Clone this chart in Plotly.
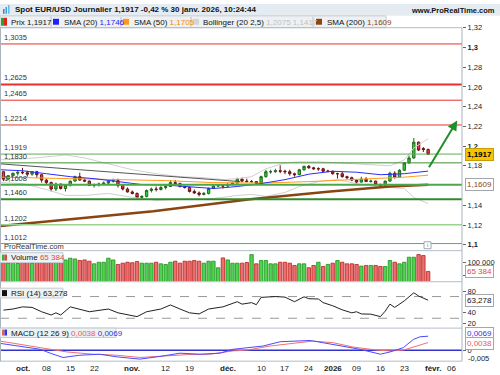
import plotly.graph_objects as go

W, H = 500, 375
FONT = "Liberation Sans"

# ---------------- data ----------------
idx = list(range(-4, 86))  # trading-day index (0 = 1 oct. 2025)
opens = [1.1740, 1.1665, 1.1700, 1.1725, 1.1733, 1.1730, 1.1715, 1.1740, 1.1710, 1.1655,
         1.1630, 1.1565, 1.1615, 1.1570, 1.1605, 1.1645, 1.1690, 1.1655, 1.1645, 1.1600,
         1.1610, 1.1615, 1.1625, 1.1645, 1.1650, 1.1600, 1.1565, 1.1535, 1.1520, 1.1480,
         1.1490, 1.1550, 1.1565, 1.1560, 1.1580, 1.1590, 1.1630, 1.1620, 1.1590, 1.1580,
         1.1540, 1.1525, 1.1510, 1.1520, 1.1570, 1.1595, 1.1600, 1.1595, 1.1610, 1.1625,
         1.1665, 1.1645, 1.1640, 1.1640, 1.1625, 1.1690, 1.1740, 1.1740, 1.1750, 1.1745,
         1.1740, 1.1720, 1.1710, 1.1760, 1.1795, 1.1780, 1.1770, 1.1770, 1.1745, 1.1745,
         1.1720, 1.1720, 1.1690, 1.1680, 1.1655, 1.1635, 1.1665, 1.1640, 1.1645, 1.1610,
         1.1600, 1.1645, 1.1725, 1.1685, 1.1755, 1.1830, 1.1880, 1.2040, 1.1975, 1.1965]
highs = [1.1745, 1.1705, 1.1730, 1.1755, 1.1780, 1.1750, 1.1745, 1.1750, 1.1715, 1.1670,
         1.1640, 1.1630, 1.1620, 1.1615, 1.1650, 1.1700, 1.1730, 1.1670, 1.1650, 1.1620,
         1.1630, 1.1640, 1.1650, 1.1670, 1.1670, 1.1610, 1.1580, 1.1550, 1.1530, 1.1500,
         1.1560, 1.1580, 1.1590, 1.1595, 1.1600, 1.1655, 1.1655, 1.1630, 1.1600, 1.1590,
         1.1560, 1.1540, 1.1535, 1.1580, 1.1605, 1.1610, 1.1610, 1.1625, 1.1630, 1.1680,
         1.1680, 1.1670, 1.1655, 1.1645, 1.1700, 1.1760, 1.1760, 1.1770, 1.1805, 1.1760,
         1.1760, 1.1730, 1.1770, 1.1800, 1.1808, 1.1790, 1.1785, 1.1780, 1.1760, 1.1750,
         1.1730, 1.1745, 1.1700, 1.1690, 1.1665, 1.1690, 1.1685, 1.1660, 1.1650, 1.1620,
         1.1650, 1.1740, 1.1745, 1.1765, 1.1835, 1.1905, 1.2082, 1.2045, 1.1990, 1.1975]
lows = [1.1645, 1.1660, 1.1690, 1.1700, 1.1715, 1.1690, 1.1700, 1.1680, 1.1630, 1.1610,
        1.1540, 1.1545, 1.1560, 1.1540, 1.1590, 1.1640, 1.1650, 1.1635, 1.1595, 1.1580,
        1.1590, 1.1605, 1.1615, 1.1630, 1.1580, 1.1550, 1.1530, 1.1510, 1.1470, 1.1468,
        1.1480, 1.1530, 1.1540, 1.1550, 1.1560, 1.1585, 1.1600, 1.1580, 1.1570, 1.1530,
        1.1515, 1.1490, 1.1500, 1.1510, 1.1565, 1.1585, 1.1570, 1.1585, 1.1600, 1.1620,
        1.1635, 1.1635, 1.1630, 1.1615, 1.1615, 1.1680, 1.1720, 1.1730, 1.1725, 1.1715,
        1.1700, 1.1690, 1.1705, 1.1750, 1.1770, 1.1760, 1.1750, 1.1740, 1.1735, 1.1710,
        1.1670, 1.1680, 1.1665, 1.1645, 1.1620, 1.1630, 1.1640, 1.1630, 1.1600, 1.1585,
        1.1595, 1.1640, 1.1670, 1.1680, 1.1750, 1.1820, 1.1870, 1.1950, 1.1940, 1.1910]
closes = [1.1665, 1.1700, 1.1725, 1.1733, 1.1730, 1.1715, 1.1740, 1.1710, 1.1655, 1.1630,
          1.1565, 1.1615, 1.1570, 1.1605, 1.1645, 1.1690, 1.1655, 1.1645, 1.1600, 1.1610,
          1.1615, 1.1625, 1.1645, 1.1650, 1.1600, 1.1565, 1.1535, 1.1520, 1.1480, 1.1490,
          1.1550, 1.1565, 1.1560, 1.1580, 1.1590, 1.1630, 1.1620, 1.1590, 1.1580, 1.1540,
          1.1525, 1.1510, 1.1520, 1.1570, 1.1595, 1.1600, 1.1595, 1.1610, 1.1625, 1.1665,
          1.1645, 1.1640, 1.1640, 1.1625, 1.1690, 1.1740, 1.1740, 1.1750, 1.1745, 1.1740,
          1.1720, 1.1710, 1.1760, 1.1795, 1.1780, 1.1770, 1.1770, 1.1745, 1.1745, 1.1720,
          1.1720, 1.1690, 1.1680, 1.1655, 1.1635, 1.1665, 1.1640, 1.1645, 1.1610, 1.1600,
          1.1645, 1.1725, 1.1685, 1.1755, 1.1830, 1.1880, 1.2040, 1.1960, 1.1965, 1.1917]
volumes = [105000, 98000, 102000, 96000, 108000, 100000, 97000, 104000, 110000, 112000, 118000, 106000,
           123000, 110000, 116700, 114000, 107700, 110000, 105000, 94900, 101000, 101000, 116700, 110000,
           92300, 97400, 101000, 99000, 104000, 97400, 97400, 97400, 101000, 94900, 92300, 101000,
           105000, 97400, 105000, 105000, 107700, 105000, 97400, 105000, 105000, 79500, 118000, 110000,
           97400, 97400, 97400,
           100000, 130800, 94900, 107700, 107700, 94900, 94900, 101000, 101000, 97400, 88500, 94900,
           94900, 79500, 88500, 101000, 84600, 92300, 97400, 107700, 101000, 94900, 94900, 92300,
           85900, 88500, 88500, 88500, 84600, 84600, 107700, 101000, 94900, 101000, 120500, 120500,
           130800, 127000, 65384]

sma20_x = [-4.7, 0, 5, 10, 15, 20, 25, 30, 35, 40, 45, 50, 55, 60, 65, 70, 75, 80, 85]
sma20_y = [1.176, 1.175, 1.172, 1.169, 1.167, 1.164, 1.161, 1.1605, 1.159, 1.157, 1.159, 1.162,
           1.166, 1.1715, 1.1745, 1.1735, 1.171, 1.172, 1.1746]
sma50_x = [-4.7, 0, 10, 20, 30, 40, 50, 60, 70, 75, 80, 85]
sma50_y = [1.1685, 1.168, 1.1675, 1.1665, 1.165, 1.163, 1.1625, 1.164, 1.166, 1.167, 1.1685, 1.1705]
sma200_x = [-4.7, 8.5, 27.4, 47.7, 64.5, 77, 85]
sma200_y = [1.119, 1.125, 1.134, 1.146, 1.154, 1.159, 1.1609]
boll_x = [-4.7, 0, 5, 9, 13, 18, 23, 28, 33, 38, 42, 45, 48, 51, 55, 58, 62, 66, 70, 74, 77, 80, 82, 85]
boll_up = [1.186, 1.187, 1.189, 1.191, 1.188, 1.182, 1.176, 1.172, 1.169, 1.168, 1.166, 1.167,
           1.169, 1.177, 1.183, 1.184, 1.184, 1.183, 1.182, 1.181, 1.180, 1.186, 1.198, 1.2075]
boll_dn = [1.163, 1.162, 1.156, 1.150, 1.150, 1.152, 1.148, 1.145, 1.146, 1.146, 1.148, 1.150,
           1.151, 1.149, 1.153, 1.159, 1.164, 1.166, 1.162, 1.159, 1.158, 1.157, 1.148, 1.1417]
trend_x = [-4.7, 45.6]
trend_y = [1.182, 1.164]
arrow_x = [85.0, 91.1]
arrow_y = [1.177, 1.226]

rsi_x = [-4, -2, 0, 2, 4, 6, 7, 8, 10, 14, 18, 20, 24, 26, 29, 31, 33, 35, 37, 39, 42, 45, 46, 48,
         49, 50, 53, 55, 57, 59, 60, 62, 63, 65, 67, 69, 70, 71, 73, 75, 76, 77, 78, 80, 82, 83, 85]
rsi_y = [45, 47, 51, 50, 42, 36, 40, 36, 51, 42, 47, 40, 33, 42, 47, 54.5, 47, 40, 38, 47, 51, 60.5,
         56, 58.8, 55, 68.5, 70, 69, 60.5, 69.6, 66, 65.5, 58.8, 53, 45.5, 40, 42, 38, 37.5, 33, 43,
         56, 50, 62, 77, 71, 63.278]

macd_x = [-4.7, -0.5, 3.7, 5.8, 8.5, 12, 16.2, 19.8, 24.6, 28.8, 33, 37.2, 41.4, 44.1, 47, 50.4,
          54, 57.5, 60.3, 63, 67.2, 70.7, 75, 77, 79.8, 81.9, 83.3, 85]
macd_y = [0.0034, 0.0021, 0.0005, -0.0014, -0.0035, -0.0024, -0.0019, -0.0032, -0.0043, -0.0030,
          -0.0014, -0.0019, -0.0014, 0.0005, 0.0013, 0.0021, 0.0042, 0.0045, 0.0048, 0.0037, 0.0021,
          0.0005, -0.0019, -0.0008, 0.0013, 0.0053, 0.0066, 0.0069]
sig_x = [-4.7, -0.5, 3.7, 9.3, 14.8, 19.8, 24.6, 30.3, 34.5, 39.3, 44.1, 47, 51.9, 56.7, 60.9, 65.1,
         69.3, 74.3, 77, 79.8, 82.7, 85]
sig_y = [0.0045, 0.0029, 0.0013, -0.0008, -0.0019, -0.0024, -0.0035, -0.0027, -0.0021, -0.0019,
         -0.0003, 0.0001, 0.0021, 0.0034, 0.0045, 0.0037, 0.0016, 0.0001, -0.0003, 0.0001, 0.0021, 0.0038]

levels = [1.3035, 1.2625, 1.2465, 1.2214, 1.1919, 1.1830, 1.1608, 1.1460, 1.1202, 1.1012]
level_labels = ['1,3035', '1,2625', '1,2465', '1,2214', '1,1919', '1,1830', '1,1608', '1,1460', '1,1202', '1,1012']
level_colors = ['#e8312b'] * 4 + ['#5fae4f', '#3f8f35', '#4aa84a', '#2f8a2f', '#9ad48f', '#5fae4f']
level_widths = [1, 2, 1, 1, 1, 1, 2, 2, 1.5, 1]

xtick_vals = [0, 5, 10, 15, 23, 30, 35, 43, 50, 55, 60, 65, 70, 75, 80, 86, 90]
xtick_text = ['<b>oct.</b>', '08', '15', '22', '<b>nov.</b>', '12', '19', '<b>déc.</b>', '10', '17', '24',
              '<b>2026</b>', '09', '16', '23', '<b>févr.</b>', '06']
ptick_vals = [1.32, 1.30, 1.28, 1.26, 1.24, 1.22, 1.20, 1.18, 1.14, 1.12, 1.10]
ptick_text = ['1,32', '<b>1,3</b>', '1,28', '1,26', '1,24', '1,22', '<b>1,2</b>', '1,18', '1,14', '1,12', '<b>1,1</b>']

# ---------------- figure ----------------
def pyp(px):
    return 1 - px / H

def pxp(px):
    return px / W

XR = [-4.72, 92.1]
XD = [0, 462 / W]

fig = go.Figure()
GREEN, GREEN_E = '#3ccd3c', '#1d6b1d'
RED, RED_E = '#e84040', '#6b1414'

fig.add_trace(go.Scatter(x=boll_x, y=boll_up, mode='lines', line=dict(color='#cfcfcf', width=1), yaxis='y'))
fig.add_trace(go.Scatter(x=boll_x, y=boll_dn, mode='lines', line=dict(color='#cfcfcf', width=1), yaxis='y'))
fig.add_trace(go.Scatter(x=trend_x, y=trend_y, mode='lines', line=dict(color='#555555', width=1), yaxis='y'))
fig.add_trace(go.Scatter(x=sma200_x, y=sma200_y, mode='lines', line=dict(color='#8b4513', width=2.5), yaxis='y'))
fig.add_trace(go.Scatter(x=sma50_x, y=sma50_y, mode='lines', line=dict(color='#ff9a1a', width=1), yaxis='y'))
fig.add_trace(go.Scatter(x=sma20_x, y=sma20_y, mode='lines', line=dict(color='#2b2bff', width=1), yaxis='y'))
fig.add_trace(go.Candlestick(x=idx, open=opens, high=highs, low=lows, close=closes, yaxis='y',
                             whiskerwidth=0,
                             increasing=dict(fillcolor=GREEN, line=dict(color=GREEN_E, width=1)),
                             decreasing=dict(fillcolor=RED, line=dict(color=RED_E, width=1))))

vcol = ['#4fd24f' if c >= o else '#ea7070' for o, c in zip(opens, closes)]
vedge = ['#1f8f1f' if c >= o else '#b82020' for o, c in zip(opens, closes)]
fig.add_trace(go.Bar(x=idx, y=volumes, yaxis='y2', width=0.72,
                     marker=dict(color=vcol, line=dict(color=vedge, width=0.8))))
fig.add_trace(go.Scatter(x=rsi_x, y=rsi_y, mode='lines', line=dict(color='#222222', width=1), yaxis='y3'))
fig.add_trace(go.Scatter(x=sig_x, y=sig_y, mode='lines', line=dict(color='#f07070', width=1), yaxis='y4'))
fig.add_trace(go.Scatter(x=macd_x, y=macd_y, mode='lines', line=dict(color='#4a4aff', width=1), yaxis='y4'))

tickfont = dict(family=FONT, size=7.5, color='#222')
yax_common = dict(side='right', anchor='x', showgrid=False, zeroline=False, ticks='outside',
                  ticklen=3, tickcolor='#666', tickfont=tickfont, showline=False, fixedrange=True)

fig.update_layout(
    width=W, height=H, margin=dict(l=0, r=0, t=0, b=0),
    paper_bgcolor='white', plot_bgcolor='white', showlegend=False,
    xaxis=dict(domain=XD, range=XR, anchor='y4', rangeslider=dict(visible=False), showgrid=False,
               zeroline=False, ticks='', showticklabels=False, showline=False, fixedrange=True),
    yaxis=dict(domain=[pyp(250), pyp(24)], range=[1.094, 1.320], tickvals=ptick_vals, ticktext=ptick_text, **yax_common),
    yaxis2=dict(domain=[pyp(281), pyp(250)], range=[26900, 146150], tickvals=[100000, 50000],
                ticktext=['100 000', '50 000'], **yax_common),
    yaxis3=dict(domain=[pyp(328), pyp(282)], range=[12.7, 96.4], tickvals=[80, 40, 20],
                ticktext=['80', '40', '20'], **yax_common),
    yaxis4=dict(domain=[pyp(362), pyp(329)], range=[-0.0053, 0.0106], tickvals=[0], ticktext=['0'], **yax_common),
)

shapes = []
for lv, col, wd in zip(levels, level_colors, level_widths):
    shapes.append(dict(type='line', xref='paper', yref='y', x0=0, x1=XD[1], y0=lv, y1=lv,
                       line=dict(color=col, width=wd), layer='above'))
for lv in (70, 30):
    shapes.append(dict(type='line', xref='paper', yref='y3', x0=0, x1=XD[1], y0=lv, y1=lv,
                       line=dict(color='#999999', width=1, dash='dash'), layer='below'))
shapes.append(dict(type='line', xref='paper', yref='y4', x0=0, x1=XD[1], y0=0, y1=0,
                   line=dict(color='#3333cc', width=1.5), layer='below'))
shapes.append(dict(type='rect', xref='paper', yref='paper', x0=0, x1=1, y0=pyp(12), y1=1,
                   fillcolor='#e5ecf1', line=dict(width=0), layer='below'))
shapes.append(dict(type='rect', xref='paper', yref='paper', x0=0, x1=pxp(386), y0=pyp(24), y1=pyp(12),
                   fillcolor='#eef1f3', line=dict(color='#c5ccd2', width=1), layer='below'))
for sx in (51, 121, 191, 313):
    shapes.append(dict(type='line', xref='paper', yref='paper', x0=pxp(sx), x1=pxp(sx), y0=pyp(23), y1=pyp(13),
                       line=dict(color='#b8c0c6', width=1)))
for sy in (24, 250, 281.5, 328.5, 362):
    shapes.append(dict(type='line', xref='paper', yref='paper', x0=0, x1=pxp(462), y0=pyp(sy), y1=pyp(sy),
                       line=dict(color='#b4bec6', width=1)))
shapes.append(dict(type='line', xref='paper', yref='paper', x0=pxp(462), x1=pxp(462), y0=pyp(362), y1=pyp(24),
                   line=dict(color='#a9b4bd', width=1)))
shapes.append(dict(type='line', xref='paper', yref='paper', x0=pxp(0.5), x1=pxp(0.5), y0=pyp(362), y1=pyp(24),
                   line=dict(color='#a9b4bd', width=1)))

def sq(x0, x1, y0, y1, col):
    return dict(type='rect', xref='paper', yref='paper', x0=pxp(x0), x1=pxp(x1), y0=pyp(y1), y1=pyp(y0),
                fillcolor=col, line=dict(width=0))
shapes += [sq(1, 4, 14, 22, '#22aa22'), sq(4, 7, 14, 22, '#dd2222'),
           sq(53, 59, 15, 21, '#1f1fff'), sq(123, 129, 15, 21, '#ff9a1a'),
           sq(193, 199, 15, 21, '#d4d4d4'), sq(316, 322, 15, 21, '#8b4513')]
shapes += [sq(3, 4.5, 5, 10, '#3a7fd0'), sq(5.5, 7, 3, 10, '#3a9fe0'), sq(8, 9.5, 1, 10, '#60b8f0')]
shapes.append(dict(type='rect', xref='paper', yref='paper', x0=pxp(0), x1=pxp(63), y0=pyp(262), y1=pyp(252),
                   fillcolor='#eef1f3', line=dict(color='#c5ccd2', width=1)))
shapes += [sq(2, 4.5, 254, 260, '#22bb22'), sq(4.5, 7, 254, 260, '#dd4444')]
shapes.append(dict(type='rect', xref='paper', yref='paper', x0=pxp(0), x1=pxp(63), y0=pyp(298), y1=pyp(288),
                   fillcolor='#eef1f3', line=dict(color='#c5ccd2', width=1)))
shapes += [sq(2, 7, 290, 296, '#111111')]
shapes.append(dict(type='rect', xref='paper', yref='paper', x0=pxp(0), x1=pxp(116), y0=pyp(338), y1=pyp(328.5),
                   fillcolor='#eef1f3', line=dict(color='#c5ccd2', width=1)))
shapes += [sq(2, 4.5, 330, 336, '#e06060'), sq(4.5, 7, 330, 336, '#3333dd')]
shapes.append(dict(type='rect', xref='paper', yref='paper', x0=pxp(424), x1=pxp(431), y0=pyp(248), y1=pyp(241),
                   fillcolor='white', line=dict(color='#a0a8ae', width=1)))
fig.update_layout(shapes=shapes)

ann = []
def txt(xpx, ypx, s, size=8, color='#111', anchor='left'):
    ann.append(dict(x=pxp(xpx), y=pyp(ypx), xref='paper', yref='paper', text=s, showarrow=False,
                    xanchor=anchor, yanchor='middle', font=dict(family=FONT, size=size, color=color)))

txt(13, 6, '<b>Spot EUR/USD Journalier 1,1917 -0,42 % 30 janv. 2026, 10:24:44</b>', size=8)
txt(497, 7, '<b>www.ProRealTime.com</b>', size=7.5, anchor='right')
txt(9, 18.5, 'Prix 1,1917', size=8)
txt(62, 18.5, 'SMA (20) <span style="color:#2222ee">1,1746</span>', size=8)
txt(132, 18.5, 'SMA (50) <span style="color:#f08c00">1,1705</span>', size=8)
txt(201, 18.5, 'Bollinger (20 2,5) <span style="color:#c0c0c0">1,2075 1,1417</span>', size=8)
txt(325, 18.5, 'SMA (200) <span style="color:#8b4513">1,1609</span>', size=8)
txt(2, 245.5, 'ProRealTime.com', size=7.5, color='#333')
txt(9, 257, 'Volume <span style="color:#e04848">65 384</span>', size=8)
txt(9, 293, 'RSI (14) 63,278', size=8)
txt(9, 333.5, 'MACD (12 26 9) <span style="color:#e06060">0,0038</span> <span style="color:#3333dd">0,0069</span>', size=8)
txt(427.5, 244.5, 'i', size=6, color='#777', anchor='center')
txt(466, 359, '-0,005', size=7.5, color='#222')

for xv, xt in zip(xtick_vals, xtick_text):
    ann.append(dict(x=xv, y=pyp(369), xref='x', yref='paper', text=xt, showarrow=False, xanchor='center',
                    yanchor='middle', font=dict(family=FONT, size=8, color='#222')))

for lv, lab in zip(levels, level_labels):
    ann.append(dict(x=pxp(2), y=lv, xref='paper', yref='y', text=lab, showarrow=False, xanchor='left',
                    yanchor='bottom', yshift=0, font=dict(family=FONT, size=7.5, color='#333')))

def vbox(y, yref, s, fc, bg, bc, shift=0):
    ann.append(dict(x=pxp(464.5), y=y, xref='paper', yref=yref, text=s, showarrow=False, xanchor='left',
                    yanchor='middle', yshift=shift, font=dict(family=FONT, size=8, color=fc), bgcolor=bg,
                    bordercolor=bc, borderwidth=1, borderpad=1))
vbox(closes[-1], 'y', '<b>1,1917</b>', '#000', '#f6c400', '#c79c00')
vbox(sma200_y[-1], 'y', '1,1609', '#8b4513', 'white', '#a0a8ae')
vbox(volumes[-1], 'y2', '65 384', '#e04848', 'white', '#a0a8ae')
vbox(rsi_y[-1], 'y3', '63,278', '#111', 'white', '#a0a8ae')
vbox(macd_y[-1], 'y4', '0,0069', '#3333dd', 'white', '#a0a8ae', shift=2.5)
vbox(sig_y[-1], 'y4', '0,0038', '#e06060', 'white', '#a0a8ae', shift=-0.5)

ann.append(dict(x=arrow_x[1], y=arrow_y[1], ax=arrow_x[0], ay=arrow_y[0], xref='x', yref='y', axref='x', ayref='y',
                showarrow=True, arrowhead=2, arrowsize=1, arrowwidth=2, arrowcolor='#1f8f2a', text=''))
fig.update_layout(annotations=ann)

fig.write_html("out.html", config={'displayModeBar': False, 'staticPlot': True},
               post_script="document.body.style.margin='0';document.body.style.overflow='hidden';")
